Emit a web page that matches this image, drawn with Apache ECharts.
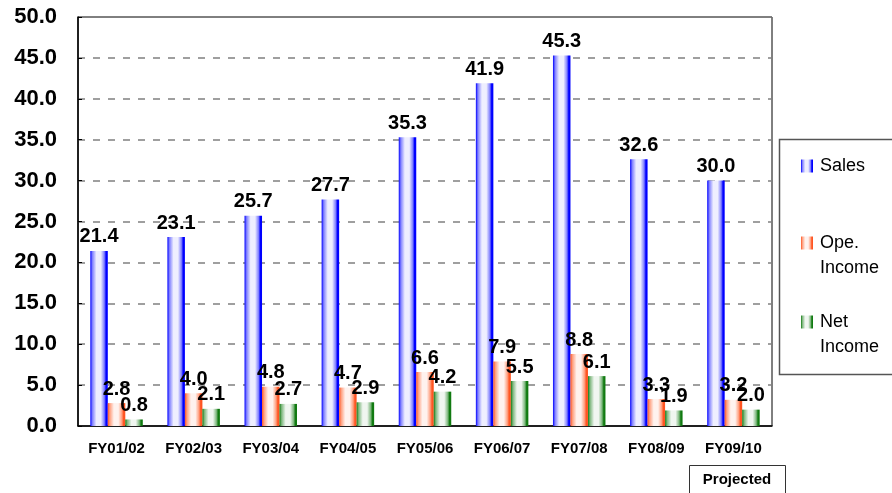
<!DOCTYPE html>
<html>
<head>
<meta charset="utf-8">
<script src="https://cdn.jsdelivr.net/npm/echarts@6/dist/echarts.min.js"></script>
<style>html,body{margin:0;padding:0;background:#fff}#c{width:892px;height:493px}</style>
</head>
<body>
<div id="c"></div>
<script>
var categories = ['FY01/02','FY02/03','FY03/04','FY04/05','FY05/06','FY06/07','FY07/08','FY08/09','FY09/10'];
var sales = [21.4, 23.1, 25.7, 27.7, 35.3, 41.9, 45.3, 32.6, 30.0];
var opeIncome = [2.8, 4.0, 4.8, 4.7, 6.6, 7.9, 8.8, 3.3, 3.2];
var netIncome = [0.8, 2.1, 2.7, 2.9, 4.2, 5.5, 6.1, 1.9, 2.0];
var seriesNames = ['Sales', 'Ope. Income', 'Net Income'];
var legendFirstLines = ['Sales', 'Ope.', 'Net'];
var legendSecondLines = ['', 'Income', 'Income'];

function grad(edge, mid, light) {
  return new echarts.graphic.LinearGradient(0, 0, 1, 0, [
    {offset: 0, color: edge},
    {offset: 0.12, color: mid},
    {offset: 0.35, color: light},
    {offset: 0.6, color: light},
    {offset: 0.8, color: mid},
    {offset: 0.9, color: edge},
    {offset: 1, color: edge}
  ]);
}
var blue = grad('#0000ff', '#8080ff', '#eeeeff');
var orange = grad('#ff5522', '#ffa080', '#fff2ee');
var green = grad('#117a11', '#7fb87f', '#f0f6f0');

var FONT = 'Liberation Sans, Arial, sans-serif';
var labelStyle = {show: true, position: 'top', color: '#000', fontFamily: FONT, fontWeight: 'bold', fontSize: 20, distance: 4,
  formatter: function (p) { return p.value.toFixed(1); }};

function legendAt(i, top) {
  return {
    data: [seriesNames[i]], left: 801, top: top, orient: 'vertical', padding: 0,
    icon: 'rect', itemWidth: 12, itemHeight: 13, itemGap: 0,
    formatter: function () { return legendFirstLines[i]; },
    textStyle: {fontFamily: FONT, fontSize: 18, color: '#000', padding: [0, 0, 0, 2]},
    selectedMode: false
  };
}

var graphics = [
  {type: 'rect', left: 777, top: 137, shape: {width: 130, height: 235}, style: {fill: 'none', stroke: '#555', lineWidth: 1.5}, z: -1},
  {type: 'rect', left: 689, top: 465, shape: {width: 96, height: 40}, style: {fill: '#fff', stroke: '#333', lineWidth: 1}},
  {type: 'text', x: 737, y: 480, style: {text: 'Projected', fill: '#000', font: 'bold 15px "Liberation Sans", Arial, sans-serif', align: 'center', verticalAlign: 'middle'}}
];
var secondLineY = [0, 268, 347];
for (var k = 1; k < 3; k++) {
  graphics.push({type: 'text', x: 820, y: secondLineY[k], style: {text: legendSecondLines[k], fill: '#000', font: '18px "Liberation Sans", Arial, sans-serif', verticalAlign: 'middle'}});
}

var chart = echarts.init(document.getElementById('c'), null, {renderer: 'canvas'});
chart.setOption({
  animation: false,
  grid: {left: 78, right: 120, top: 17, bottom: 67, show: true, borderColor: '#000', borderWidth: 1, backgroundColor: 'transparent'},
  legend: [legendAt(0, 157), legendAt(1, 234), legendAt(2, 313)],
  xAxis: {
    type: 'category', data: categories,
    axisLine: {lineStyle: {color: '#000', width: 1.5}},
    axisTick: {inside: true, length: 5, lineStyle: {color: '#000'}},
    axisLabel: {color: '#000', fontFamily: FONT, fontWeight: 'bold', fontSize: 15, margin: 15}
  },
  yAxis: {
    type: 'value', min: 0, max: 50, interval: 5,
    axisLine: {show: true, lineStyle: {color: '#000', width: 1.5}},
    axisTick: {show: true, inside: true, length: 4, lineStyle: {color: '#000'}},
    axisLabel: {color: '#000', fontFamily: FONT, fontWeight: 'bold', fontSize: 22, margin: 21,
      formatter: function (v) { return v.toFixed(1); }},
    splitLine: {lineStyle: {color: '#808080', width: 1.5, type: [7, 8]}}
  },
  series: [
    {name: seriesNames[0], type: 'bar', data: sales, barWidth: 17.5, barGap: '0%', itemStyle: {color: blue}, label: labelStyle},
    {name: seriesNames[1], type: 'bar', data: opeIncome, barWidth: 17.5, barGap: '0%', itemStyle: {color: orange}, label: labelStyle},
    {name: seriesNames[2], type: 'bar', data: netIncome, barWidth: 17.5, barGap: '0%', itemStyle: {color: green}, label: labelStyle}
  ],
  graphic: graphics
});
</script>
</body>
</html>
